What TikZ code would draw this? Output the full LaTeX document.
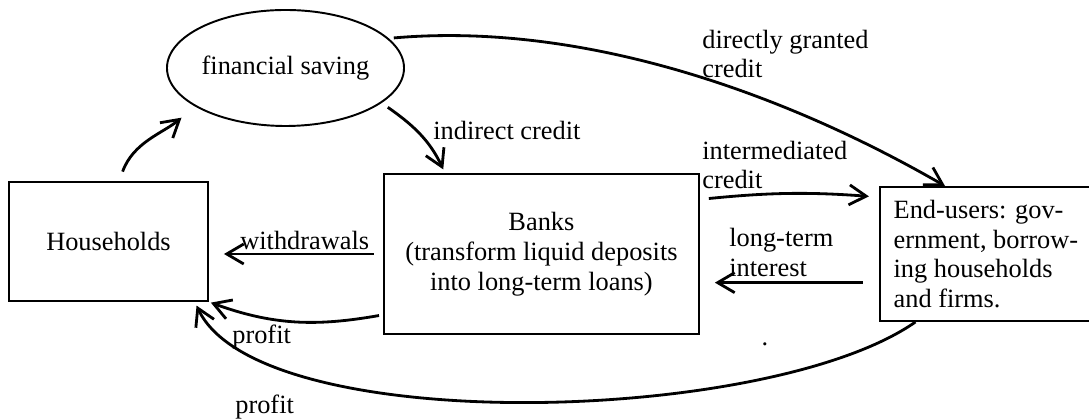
\documentclass[tikz,border=0pt]{standalone}
\usepackage{fontspec}
\setmainfont{Liberation Serif}
\usepackage{tikz}
\usetikzlibrary{arrows.meta,positioning,shapes.geometric}

\begin{document}
\begin{tikzpicture}[
  font=\fontsize{15}{17}\selectfont,
  box/.style={draw,line width=1.1pt,align=center,inner sep=2pt},
  oval/.style={draw,ellipse,line width=1.1pt,minimum width=4.38cm,minimum height=2.32cm,inner sep=0pt},
  arrow/.style={-{Straight Barb[length=3.4mm,width=4mm]},line width=1.6pt},
  note/.style={anchor=west,align=left,inner sep=0pt}
]
\useasboundingbox (0,0) rectangle (21.78,8.38);
\node[box,minimum width=3.98cm,minimum height=2.38cm] (households) at (2.17,3.55) {Households};
\node[box,minimum width=6.3cm,minimum height=3.2cm,right=3.48cm of households,yshift=-0.25cm] (banks) {Banks\\(transform liquid deposits\\into long-term loans)};
\node[box,align=left,minimum width=4.24cm,minimum height=2.68cm,right=3.58cm of banks] (endusers) {End-users: gov-\\ernment, borrow-\\ing households\\and firms.};
\node[oval] (saving) at (5.71,7.02) {financial saving};

\node[note] (directlbl) at (14.04,7.30) {directly granted\\credit};
\node[note] (indirectlbl) at (8.66,5.78) {indirect credit};
\node[note] (intermedlbl) at (14.04,5.08) {intermediated\\credit};
\node[note] (interestlbl) at (14.58,3.33) {long-term\\interest};
\node[note] (withdrawlbl) at (4.80,3.58) {withdrawals};
\node[note] (profitlbl) at (4.64,1.64) {profit};
\node[note] (profitlblb) at (4.70,0.24) {profit};
\node[anchor=base] (dot) at (15.30,1.46) {.};

\draw[arrow,shorten <=0.2cm,shorten >=0.35cm] (households.80) to[out=70,in=220] (saving.203);
\draw[arrow,shorten <=0.15cm,shorten >=0.08cm] (saving.340) to[out=-35,in=115] (banks.140);
\draw[arrow,shorten <=0.1cm] (saving.16) to[out=5,in=150,out distance=3.78cm,in distance=3.88cm] (endusers.121);
\draw[arrow,shorten <=0.18cm,shorten >=0.2cm] (banks.19) to[bend left=5] (endusers.152);
\draw[arrow,shorten <=0.32cm,shorten >=0.3cm] (endusers.195) -- (endusers.195 -| banks.east);
\draw[arrow,shorten <=0.18cm,shorten >=0.3cm] (banks.west) -- (banks.west -| households.east);
\draw[arrow,shorten <=0.08cm,shorten >=0.04cm] (banks.201) to[out=190,in=-20] (households.south east);
\draw[arrow,shorten >=0.08cm] (endusers.224) to[out=215,in=-65,out distance=3.6cm,in distance=3.0cm] (households.-35);
\end{tikzpicture}
\end{document}
